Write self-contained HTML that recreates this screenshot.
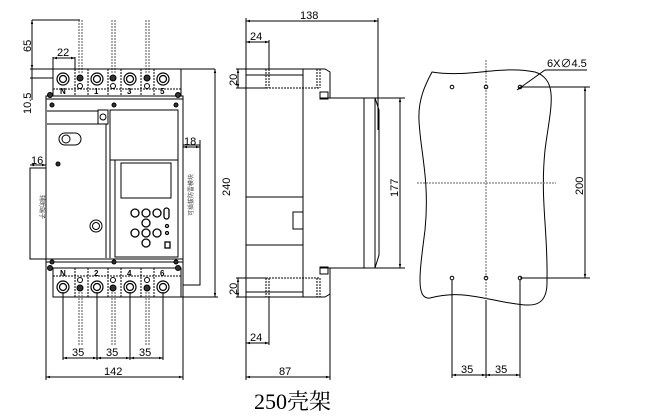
<!DOCTYPE html>
<html><head><meta charset="utf-8"><style>
html,body{margin:0;padding:0;background:#fff;}
svg{display:block;font-family:"Liberation Sans","Noto Sans CJK SC",sans-serif;}
</style></head><body>
<svg width="650" height="417" viewBox="0 0 650 417" xmlns="http://www.w3.org/2000/svg">
<defs>
<marker id="a" viewBox="0 0 10 10" refX="10" refY="5" markerWidth="6" markerHeight="4" orient="auto-start-reverse"><path d="M0,2 L10,5 L0,8z" fill="#000"/></marker>
</defs>
<g stroke="#000" fill="none" stroke-width="1">
<!-- FRONT VIEW -->
<rect x="46" y="96" width="137" height="166"/>
<path d="M53,69 H181 V96 H53Z"/>
<path d="M53,268 H181 V297 H53Z"/>
<line x1="46" y1="99" x2="183" y2="99"/>
<line x1="46" y1="259" x2="183" y2="259"/>
<!-- top terminals -->
<g stroke-dasharray="2,1"><line x1="75" y1="69" x2="75" y2="96"/><line x1="88" y1="69" x2="88" y2="96"/><line x1="108" y1="69" x2="108" y2="96"/><line x1="121" y1="69" x2="121" y2="96"/><line x1="141" y1="69" x2="141" y2="96"/><line x1="154" y1="69" x2="154" y2="96"/>
<line x1="53" y1="89" x2="181" y2="89"/>
<line x1="75" y1="268" x2="75" y2="297"/><line x1="88" y1="268" x2="88" y2="297"/><line x1="108" y1="268" x2="108" y2="297"/><line x1="121" y1="268" x2="121" y2="297"/><line x1="141" y1="268" x2="141" y2="297"/><line x1="154" y1="268" x2="154" y2="297"/>
<line x1="53" y1="276" x2="181" y2="276"/>
</g>
<g stroke-width="1.2">
<circle cx="63" cy="79" r="6"/><circle cx="63" cy="79" r="3.5"/>
<circle cx="97" cy="79" r="6"/><circle cx="97" cy="79" r="3.5"/>
<circle cx="130" cy="79" r="6"/><circle cx="130" cy="79" r="3.5"/>
<circle cx="163" cy="79" r="6"/><circle cx="163" cy="79" r="3.5"/>
<circle cx="63" cy="287" r="6"/><circle cx="63" cy="287" r="3.5"/>
<circle cx="97" cy="287" r="6"/><circle cx="97" cy="287" r="3.5"/>
<circle cx="130" cy="287" r="6"/><circle cx="130" cy="287" r="3.5"/>
<circle cx="163" cy="287" r="6"/><circle cx="163" cy="287" r="3.5"/>
</g>
<g fill="#333"><circle cx="80" cy="78" r="3"/><circle cx="113" cy="78" r="3"/><circle cx="147" cy="78" r="3"/>
<circle cx="80" cy="288" r="3"/><circle cx="113" cy="288" r="3"/><circle cx="147" cy="288" r="3"/>
<circle cx="50" cy="95" r="2.5"/><circle cx="178" cy="95" r="2.5"/><circle cx="50" cy="268" r="2.5"/><circle cx="178" cy="268" r="2.5"/>
<circle cx="52" cy="105" r="2"/><circle cx="114" cy="105" r="2"/><circle cx="176" cy="105" r="2"/>
<circle cx="52" cy="262" r="2"/><circle cx="114" cy="262" r="2"/><circle cx="176" cy="262" r="2"/>
<circle cx="58" cy="164" r="2"/></g>
<circle cx="80" cy="86" r="2.5"/><circle cx="113" cy="86" r="2.5"/><circle cx="147" cy="86" r="2.5"/>
<circle cx="80" cy="280" r="2.5"/><circle cx="113" cy="280" r="2.5"/><circle cx="147" cy="280" r="2.5"/>
<!-- wires -->
<g stroke-dasharray="2,1" stroke="#555"><line x1="79" y1="20" x2="79" y2="74"/><line x1="82" y1="20" x2="82" y2="74"/>
<line x1="112" y1="20" x2="112" y2="74"/><line x1="115" y1="20" x2="115" y2="74"/>
<line x1="146" y1="20" x2="146" y2="74"/><line x1="149" y1="20" x2="149" y2="74"/>
<line x1="79" y1="292" x2="79" y2="345"/><line x1="82" y1="292" x2="82" y2="345"/>
<line x1="112" y1="292" x2="112" y2="345"/><line x1="115" y1="292" x2="115" y2="345"/>
<line x1="146" y1="292" x2="146" y2="345"/><line x1="149" y1="292" x2="149" y2="345"/></g>
<!-- inner panels -->
<path d="M47,111 H98 V124 H47"/>
<rect x="98" y="110" width="10" height="14"/><circle cx="103" cy="117" r="3"/>
<path d="M106,124 V258 M110,258 V160"/>
<rect x="110" y="110" width="68" height="50"/>
<rect x="115" y="160" width="63" height="97"/>
<rect x="121" y="163" width="50" height="35"/>
<rect x="59" y="133" width="22" height="12" rx="6"/><circle cx="66" cy="139" r="4"/>
<circle cx="96" cy="226" r="6"/><circle cx="96" cy="226" r="3.5"/>
<g stroke-width="1.3"><circle cx="135" cy="213" r="4"/><circle cx="146" cy="213" r="4"/><circle cx="157" cy="213" r="4"/><circle cx="146" cy="223" r="4"/>
<circle cx="135" cy="233" r="4"/><circle cx="146" cy="233" r="4"/><circle cx="157" cy="233" r="4"/><circle cx="146" cy="243" r="4"/>
<rect x="164" y="208" width="5" height="11" rx="2.5"/><circle cx="167" cy="226" r="1.5"/><circle cx="167" cy="233" r="1.5"/><rect x="165" y="242" width="5" height="6"/></g>
<rect x="30" y="168" width="16" height="91"/>
<rect x="183" y="145" width="17" height="140"/>
<!-- dims front -->
<line x1="32" y1="20" x2="80" y2="20"/><line x1="32" y1="20" x2="32" y2="69" marker-start="url(#a)" marker-end="url(#a)"/>
<line x1="30" y1="69" x2="215" y2="69"/>
<line x1="30" y1="78" x2="53" y2="78"/>
<line x1="32" y1="69" x2="32" y2="100"/>
<line x1="53" y1="57" x2="53" y2="69"/><line x1="75" y1="57" x2="75" y2="69"/><line x1="53" y1="58" x2="75" y2="58" marker-start="url(#a)" marker-end="url(#a)"/>
<line x1="30" y1="165" x2="46" y2="165" marker-start="url(#a)" marker-end="url(#a)"/>
<line x1="183" y1="147" x2="200" y2="147" marker-start="url(#a)" marker-end="url(#a)"/><line x1="200" y1="140" x2="200" y2="147"/>
<line x1="181" y1="297" x2="218" y2="297"/>
<line x1="215" y1="69" x2="215" y2="297" marker-start="url(#a)" marker-end="url(#a)"/>
<line x1="63" y1="292" x2="63" y2="360"/><line x1="97" y1="292" x2="97" y2="360"/><line x1="130" y1="292" x2="130" y2="360"/><line x1="163" y1="292" x2="163" y2="360"/>
<line x1="63" y1="358" x2="97" y2="358" marker-start="url(#a)" marker-end="url(#a)"/>
<line x1="97" y1="358" x2="130" y2="358" marker-start="url(#a)" marker-end="url(#a)"/>
<line x1="130" y1="358" x2="163" y2="358" marker-start="url(#a)" marker-end="url(#a)"/>
<line x1="46" y1="262" x2="46" y2="380"/><line x1="183" y1="262" x2="183" y2="380"/>
<line x1="46" y1="377" x2="183" y2="377" marker-start="url(#a)" marker-end="url(#a)"/>

<!-- SIDE VIEW -->
<rect x="246" y="69" width="57" height="228"/>
<line x1="246" y1="75" x2="303" y2="75"/><line x1="246" y1="292" x2="303" y2="292"/>
<path d="M303,69 H325 L330,72 V98 M330,268 V294 L325,297 H303"/>
<path d="M303,69 V297"/>
<path d="M320,98 H364 V268 H320"/>
<rect x="320" y="92" width="8" height="7"/><rect x="320" y="267" width="8" height="7"/>
<path d="M364,98 H375 L379,110 V255 L375,268 H364"/><line x1="375" y1="98" x2="375" y2="268"/>
<line x1="246" y1="197" x2="303" y2="197"/><line x1="246" y1="245" x2="303" y2="245"/>
<rect x="293" y="212" width="10" height="17"/>
<g stroke-dasharray="2,1"><line x1="266" y1="69" x2="266" y2="88"/><line x1="269" y1="69" x2="269" y2="88"/><line x1="266" y1="88" x2="320" y2="88"/>
<line x1="317" y1="69" x2="317" y2="88"/><line x1="320" y1="69" x2="320" y2="88"/>
<line x1="266" y1="278" x2="266" y2="297"/><line x1="269" y1="278" x2="269" y2="297"/><line x1="266" y1="278" x2="320" y2="278"/>
<line x1="317" y1="278" x2="317" y2="297"/><line x1="320" y1="278" x2="320" y2="297"/></g>
<line x1="246" y1="18" x2="246" y2="69"/><line x1="378" y1="18" x2="378" y2="130"/>
<line x1="246" y1="21" x2="378" y2="21" marker-start="url(#a)" marker-end="url(#a)"/>
<line x1="269" y1="40" x2="269" y2="69"/><line x1="246" y1="42" x2="269" y2="42" marker-start="url(#a)" marker-end="url(#a)"/>
<line x1="236" y1="69" x2="246" y2="69"/><line x1="236" y1="88" x2="266" y2="88"/><line x1="238" y1="69" x2="238" y2="88" marker-start="url(#a)" marker-end="url(#a)"/>
<line x1="236" y1="278" x2="266" y2="278"/><line x1="236" y1="297" x2="246" y2="297"/><line x1="238" y1="278" x2="238" y2="297" marker-start="url(#a)" marker-end="url(#a)"/>
<line x1="246" y1="297" x2="246" y2="380"/><line x1="269" y1="297" x2="269" y2="345"/>
<line x1="246" y1="343" x2="269" y2="343" marker-start="url(#a)" marker-end="url(#a)"/>
<line x1="330" y1="294" x2="330" y2="380"/>
<line x1="246" y1="377" x2="330" y2="377" marker-start="url(#a)" marker-end="url(#a)"/>
<line x1="375" y1="98" x2="405" y2="98"/><line x1="375" y1="268" x2="405" y2="268"/>
<line x1="400" y1="98" x2="400" y2="268" marker-start="url(#a)" marker-end="url(#a)"/>

<!-- MOUNTING -->
<path d="M432,72 C470,78 500,65 535,72 C560,80 550,110 545,150 C540,200 548,230 547,280 C548,310 530,306 510,303 C480,298 460,290 430,298 C415,300 420,270 425,230 C430,180 420,150 419,120 C418,100 425,85 432,72Z"/>
<g stroke-dasharray="2,1" stroke="#666"><line x1="486" y1="60" x2="486" y2="300"/><line x1="417" y1="183" x2="556" y2="183"/></g>
<circle cx="452" cy="87" r="1.8"/><circle cx="486" cy="87" r="1.8"/><circle cx="520" cy="87" r="1.8"/>
<circle cx="452" cy="278" r="1.8"/><circle cx="486" cy="278" r="1.8"/><circle cx="520" cy="278" r="1.8"/>
<line x1="520" y1="87" x2="590" y2="87"/><line x1="520" y1="278" x2="590" y2="278"/>
<line x1="585" y1="87" x2="585" y2="278" marker-start="url(#a)" marker-end="url(#a)"/>
<line x1="545" y1="70" x2="517" y2="90" marker-end="url(#a)"/><line x1="545" y1="70" x2="587" y2="70"/>
<line x1="452" y1="280" x2="452" y2="378"/><line x1="486" y1="300" x2="486" y2="378"/><line x1="520" y1="280" x2="520" y2="378"/>
<line x1="452" y1="375" x2="486" y2="375" marker-start="url(#a)" marker-end="url(#a)"/>
<line x1="486" y1="375" x2="520" y2="375" marker-start="url(#a)" marker-end="url(#a)"/>
</g>
<g font-size="11" fill="#000">
<text x="57" y="56">22</text>
<text transform="translate(31,52) rotate(-90)">65</text>
<text transform="translate(31,114) rotate(-90)">10.5</text>
<text x="31" y="164">16</text>
<text x="184" y="145">18</text>
<text transform="translate(230,196) rotate(-90)">240</text>
<text x="72" y="356">35</text><text x="106" y="356">35</text><text x="139" y="356">35</text>
<text x="104" y="375">142</text>
<text x="300" y="19">138</text>
<text x="250" y="40">24</text>
<text x="250" y="341">24</text>
<text transform="translate(237,86) rotate(-90)">20</text>
<text transform="translate(237,295) rotate(-90)">20</text>
<text x="279" y="375">87</text>
<text transform="translate(398,197) rotate(-90)">177</text>
<text transform="translate(583,195) rotate(-90)">200</text>
<text x="547" y="67">6X∅4.5</text>
<text x="461" y="373">35</text><text x="495" y="373">35</text>
</g>
<g font-size="8" font-weight="bold"><text x="60" y="94">N</text><text x="94" y="94">1</text><text x="127" y="94">3</text><text x="160" y="94">5</text>
<text x="60" y="276">N</text><text x="94" y="276">2</text><text x="127" y="276">4</text><text x="160" y="276">6</text></g>
<g font-size="6" fill="#444"><text transform="translate(40,195) rotate(90)">辅助端子</text>
<text transform="translate(193,195) rotate(-90)" text-anchor="middle">可插拔防雷模块</text></g>
<text x="254" y="409" font-size="22" font-family="'Liberation Serif','Noto Serif CJK SC',serif">250壳架</text>
</svg>
</body></html>
